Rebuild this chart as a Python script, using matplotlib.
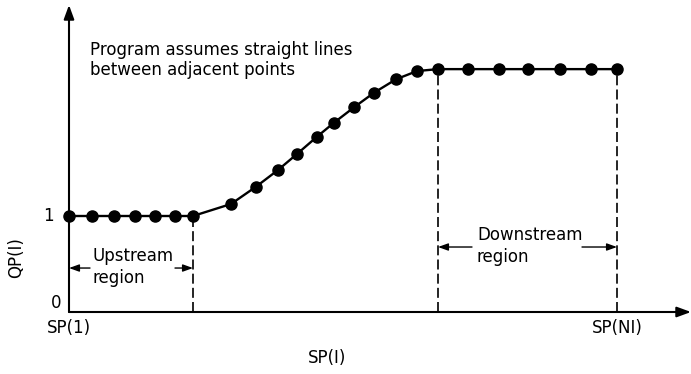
import matplotlib
matplotlib.use("Agg")
import matplotlib.pyplot as plt

# ---- data (SP in arbitrary distance units, QP dimensionless) ----
sp_up = [0.0, 2.3, 4.5, 6.6, 8.6, 10.6, 12.4]
qp_up = [1.0, 1.0, 1.0, 1.0, 1.0, 1.0, 1.0]
sp_mid = [16.2, 18.7, 20.9, 22.8, 24.8, 26.5, 28.5, 30.5, 32.7, 34.8]
qp_mid = [1.125, 1.305, 1.479, 1.646, 1.826, 1.972, 2.132, 2.284, 2.424, 2.51]
sp_down = [36.9, 39.9, 43.0, 45.9, 49.1, 52.2, 54.8]
qp_down = [2.53, 2.53, 2.53, 2.53, 2.53, 2.53, 2.53]

x_tick_pos = [sp_up[0], sp_down[-1]]
x_tick_labels = ["SP(1)", "SP(NI)"]
y_tick_vals = [0, 1]
y_tick_labels = ["0", "1"]

plt.rcParams['font.family'] = ['DejaVu Sans']
FS = 12

fig = plt.figure(figsize=(6.91, 3.74), dpi=100)
ax = fig.add_axes([69/691, (374-312)/374, 622/691, 307/374])
ax.set_xlim(0, 62.2)
ax.set_ylim(0, 3.198)
for s in ax.spines.values():
    s.set_visible(False)

sp_all = sp_up + sp_mid + sp_down
qp_all = qp_up + qp_mid + qp_down
ax.plot(sp_all, qp_all, color='black', lw=1.7, marker='o', markersize=8,
        clip_on=False, zorder=3)

# dashed region boundaries
bx = [sp_up[-1], sp_down[0], sp_down[-1]]
by = [qp_up[-1], qp_down[0], qp_down[-1]]
ax.vlines(bx, 0, by, colors='black', linestyles=(0, (6, 2.5)), lw=1.2)

# axes arrows
arrow_kw = dict(arrowstyle='-|>,head_length=0.6,head_width=0.22', color='black',
                lw=1.5, mutation_scale=14, shrinkA=0, shrinkB=0)
ax.annotate('', xy=(1.0, 0), xytext=(0, 0), xycoords='axes fraction',
            textcoords='axes fraction', arrowprops=arrow_kw)
ax.annotate('', xy=(0, 1.0), xytext=(0, 0), xycoords='axes fraction',
            textcoords='axes fraction', arrowprops=arrow_kw)

# ticks
ax.set_xticks(x_tick_pos)
ax.set_xticklabels(x_tick_labels, fontsize=FS)
ax.tick_params(axis='x', length=0, pad=5)
ax.set_yticks([])
ax.text(-1.5, y_tick_vals[1], y_tick_labels[1], fontsize=FS, ha='right', va='center')
ax.text(-0.8, y_tick_vals[0] + 0.094, y_tick_labels[0], fontsize=FS, ha='right', va='center')

ax.set_xlabel("SP(I)", fontsize=FS)
ax.xaxis.set_label_coords(0.415, -0.12)
ax.set_ylabel("QP(I)", fontsize=FS)
ax.yaxis.set_label_coords(-0.071, 0.176)

# annotations
ax.text(2.1, 2.823, "Program assumes straight lines\nbetween adjacent points",
        fontsize=FS, ha='left', va='top', linespacing=1.15)
ax.text(2.4, 0.68, "Upstream\nregion", fontsize=FS, ha='left', va='top', linespacing=1.3)
ax.text(40.8, 0.896, "Downstream\nregion", fontsize=FS, ha='left', va='top', linespacing=1.3)

small_arrow = dict(arrowstyle='-|>,head_length=0.5,head_width=0.18', color='black',
                   lw=1.0, mutation_scale=12, shrinkA=0, shrinkB=0)
y_up = 0.458
ax.annotate('', xy=(sp_up[0], y_up), xytext=(2.1, y_up), arrowprops=small_arrow)
ax.annotate('', xy=(sp_up[-1], y_up), xytext=(10.6, y_up), arrowprops=small_arrow)
y_dn = 0.677
ax.annotate('', xy=(sp_down[0], y_dn), xytext=(40.3, y_dn), arrowprops=small_arrow)
ax.annotate('', xy=(sp_down[-1], y_dn), xytext=(51.3, y_dn), arrowprops=small_arrow)

fig.savefig("out.png", dpi=100)
